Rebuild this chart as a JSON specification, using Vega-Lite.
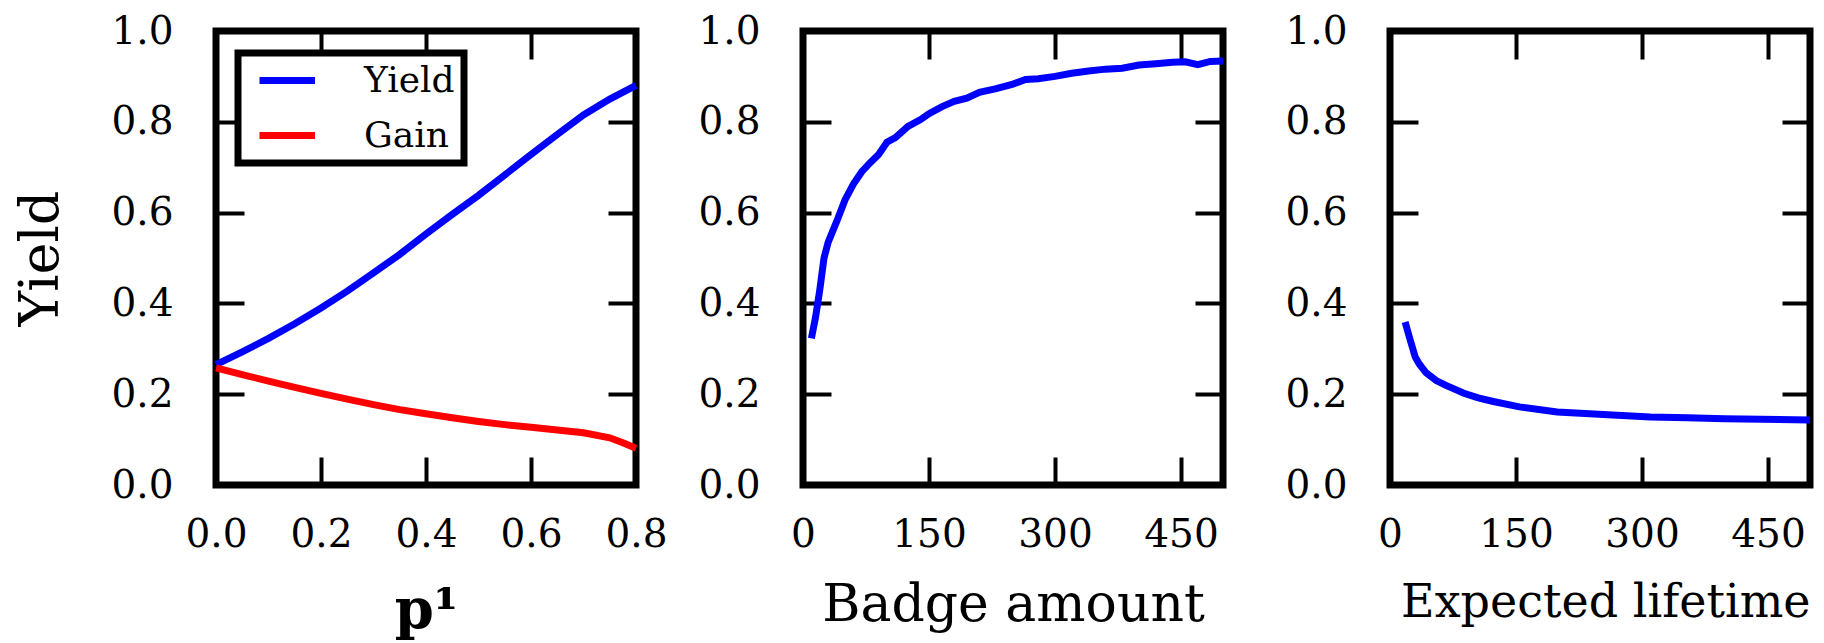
{
  "$schema": "https://vega.github.io/schema/vega-lite/v6.json",
  "background": "white",
  "padding": {"left": 11, "top": 8, "right": 0, "bottom": 0},
  "bounds": "flush",
  "spacing": 167,
  "datasets": {
    "p1": [
      {"p": 0.0, "series": "Yield", "value": 0.265},
      {"p": 0.05, "series": "Yield", "value": 0.293},
      {"p": 0.1, "series": "Yield", "value": 0.323},
      {"p": 0.15, "series": "Yield", "value": 0.355},
      {"p": 0.2, "series": "Yield", "value": 0.39},
      {"p": 0.25, "series": "Yield", "value": 0.427},
      {"p": 0.3, "series": "Yield", "value": 0.467},
      {"p": 0.35, "series": "Yield", "value": 0.508},
      {"p": 0.4, "series": "Yield", "value": 0.553},
      {"p": 0.45, "series": "Yield", "value": 0.596},
      {"p": 0.5, "series": "Yield", "value": 0.638},
      {"p": 0.55, "series": "Yield", "value": 0.683},
      {"p": 0.6, "series": "Yield", "value": 0.728},
      {"p": 0.65, "series": "Yield", "value": 0.772},
      {"p": 0.7, "series": "Yield", "value": 0.815},
      {"p": 0.75, "series": "Yield", "value": 0.85},
      {"p": 0.8, "series": "Yield", "value": 0.88},
      {"p": 0.0, "series": "Gain", "value": 0.258},
      {"p": 0.05, "series": "Gain", "value": 0.243},
      {"p": 0.1, "series": "Gain", "value": 0.229},
      {"p": 0.15, "series": "Gain", "value": 0.215},
      {"p": 0.2, "series": "Gain", "value": 0.202},
      {"p": 0.25, "series": "Gain", "value": 0.189},
      {"p": 0.3, "series": "Gain", "value": 0.177},
      {"p": 0.35, "series": "Gain", "value": 0.166},
      {"p": 0.4, "series": "Gain", "value": 0.157},
      {"p": 0.45, "series": "Gain", "value": 0.148},
      {"p": 0.5, "series": "Gain", "value": 0.14},
      {"p": 0.55, "series": "Gain", "value": 0.133},
      {"p": 0.6, "series": "Gain", "value": 0.127},
      {"p": 0.65, "series": "Gain", "value": 0.121},
      {"p": 0.7, "series": "Gain", "value": 0.115},
      {"p": 0.75, "series": "Gain", "value": 0.104},
      {"p": 0.775, "series": "Gain", "value": 0.093},
      {"p": 0.8, "series": "Gain", "value": 0.081}
    ],
    "p2": [
      {"badge": 10, "yield": 0.323},
      {"badge": 15, "yield": 0.37},
      {"badge": 20, "yield": 0.43},
      {"badge": 25, "yield": 0.5},
      {"badge": 30, "yield": 0.535},
      {"badge": 40, "yield": 0.58},
      {"badge": 50, "yield": 0.628},
      {"badge": 60, "yield": 0.663},
      {"badge": 70, "yield": 0.69},
      {"badge": 80, "yield": 0.71},
      {"badge": 90, "yield": 0.728},
      {"badge": 100, "yield": 0.755},
      {"badge": 110, "yield": 0.765},
      {"badge": 125, "yield": 0.79},
      {"badge": 140, "yield": 0.805},
      {"badge": 150, "yield": 0.818},
      {"badge": 165, "yield": 0.833},
      {"badge": 180, "yield": 0.845},
      {"badge": 195, "yield": 0.852},
      {"badge": 210, "yield": 0.865},
      {"badge": 230, "yield": 0.873},
      {"badge": 250, "yield": 0.883},
      {"badge": 265, "yield": 0.893},
      {"badge": 280, "yield": 0.895},
      {"badge": 300, "yield": 0.9},
      {"badge": 320, "yield": 0.907},
      {"badge": 340, "yield": 0.912},
      {"badge": 360, "yield": 0.916},
      {"badge": 380, "yield": 0.918},
      {"badge": 400, "yield": 0.925},
      {"badge": 420, "yield": 0.928},
      {"badge": 440, "yield": 0.931},
      {"badge": 455, "yield": 0.932},
      {"badge": 470, "yield": 0.926},
      {"badge": 485, "yield": 0.933},
      {"badge": 500, "yield": 0.934}
    ],
    "p3": [
      {"lifetime": 18, "yield": 0.359},
      {"lifetime": 23.5, "yield": 0.323},
      {"lifetime": 30, "yield": 0.282},
      {"lifetime": 35, "yield": 0.266},
      {"lifetime": 43, "yield": 0.247},
      {"lifetime": 55, "yield": 0.23},
      {"lifetime": 66, "yield": 0.22},
      {"lifetime": 88, "yield": 0.202},
      {"lifetime": 105, "yield": 0.192},
      {"lifetime": 123, "yield": 0.184},
      {"lifetime": 154, "yield": 0.172},
      {"lifetime": 199, "yield": 0.161},
      {"lifetime": 265, "yield": 0.154},
      {"lifetime": 310, "yield": 0.15},
      {"lifetime": 354, "yield": 0.148},
      {"lifetime": 398, "yield": 0.146},
      {"lifetime": 443, "yield": 0.145},
      {"lifetime": 500, "yield": 0.143}
    ]
  },
  "config": {
    "view": {"stroke": "black", "strokeWidth": 7},
    "font": "DejaVu Serif",
    "axis": {
      "grid": false,
      "domain": false,
      "tickColor": "black",
      "tickWidth": 4,
      "tickSize": -28,
      "labelFlush": false,
      "labelFont": "DejaVu Serif",
      "labelFontSize": 39,
      "labelColor": "black",
      "titleFont": "DejaVu Serif",
      "titleFontWeight": "normal",
      "titleColor": "black",
      "titleFontSize": 52
    },
    "axisX": {"labelPadding": 58},
    "axisY": {"labelPadding": 71},
    "legend": {
      "orient": "top-left",
      "offset": 22,
      "strokeColor": "black",
      "strokeWidth": 7,
      "fillColor": "white",
      "cornerRadius": 0,
      "padding": 9,
      "labelFont": "DejaVu Serif",
      "labelFontSize": 36,
      "labelColor": "black",
      "symbolType": "M-0.4,0H3.3",
      "symbolSize": 900,
      "symbolStrokeWidth": 7,
      "labelOffset": 80,
      "rowPadding": 18
    }
  },
  "hconcat": [
    {
      "width": 420,
      "height": 454,
      "data": {"name": "p1"},
      "layer": [
        {
          "mark": {"type": "line", "strokeWidth": 7},
          "encoding": {
            "x": {"field": "p", "type": "quantitative", "scale": {"domain": [0, 0.8]},
                  "axis": {"orient": "bottom", "values": [0, 0.2, 0.4, 0.6, 0.8], "format": ".1f", "title": "p¹", "titleFontWeight": "bold", "titleFontSize": 56, "titlePadding": 29}},
            "y": {"field": "value", "type": "quantitative", "scale": {"domain": [0, 1]},
                  "axis": {"orient": "left", "values": [0, 0.2, 0.4, 0.6, 0.8, 1], "format": ".1f", "title": "Yield", "titleFontSize": 54, "titlePadding": 42}},
            "color": {"field": "series", "type": "nominal",
                      "scale": {"domain": ["Yield", "Gain"], "range": ["#0000ff", "#ff0000"]},
                      "legend": {"title": null}}
          }
        },
        {
          "mark": {"type": "line", "strokeWidth": 7, "opacity": 0},
          "encoding": {
            "x": {"field": "p", "type": "quantitative", "scale": {"domain": [0, 0.8]},
                  "axis": {"orient": "top", "values": [0, 0.2, 0.4, 0.6, 0.8], "labels": false, "title": null}},
            "y": {"field": "value", "type": "quantitative", "scale": {"domain": [0, 1]},
                  "axis": {"orient": "right", "values": [0, 0.2, 0.4, 0.6, 0.8, 1], "labels": false, "title": null}},
            "detail": {"field": "series", "type": "nominal"}
          }
        }
      ],
      "resolve": {"axis": {"x": "independent", "y": "independent"}}
    },
    {
      "width": 420,
      "height": 454,
      "data": {"name": "p2"},
      "layer": [
        {
          "mark": {"type": "line", "strokeWidth": 7, "color": "#0000ff"},
          "encoding": {
            "x": {"field": "badge", "type": "quantitative", "scale": {"domain": [0, 500]},
                  "axis": {"orient": "bottom", "values": [0, 150, 300, 450], "format": "d", "title": "Badge amount", "titlePadding": 25}},
            "y": {"field": "yield", "type": "quantitative", "scale": {"domain": [0, 1]},
                  "axis": {"orient": "left", "values": [0, 0.2, 0.4, 0.6, 0.8, 1], "format": ".1f", "title": null}}
          }
        },
        {
          "mark": {"type": "line", "strokeWidth": 7, "opacity": 0},
          "encoding": {
            "x": {"field": "badge", "type": "quantitative", "scale": {"domain": [0, 500]},
                  "axis": {"orient": "top", "values": [0, 150, 300, 450], "labels": false, "title": null}},
            "y": {"field": "yield", "type": "quantitative", "scale": {"domain": [0, 1]},
                  "axis": {"orient": "right", "values": [0, 0.2, 0.4, 0.6, 0.8, 1], "labels": false, "title": null}}
          }
        }
      ],
      "resolve": {"axis": {"x": "independent", "y": "independent"}}
    },
    {
      "width": 420,
      "height": 454,
      "data": {"name": "p3"},
      "layer": [
        {
          "mark": {"type": "line", "strokeWidth": 7, "color": "#0000ff"},
          "encoding": {
            "x": {"field": "lifetime", "type": "quantitative", "scale": {"domain": [0, 500]},
                  "axis": {"orient": "bottom", "values": [0, 150, 300, 450], "format": "d", "title": "Expected lifetime", "titleFontSize": 46, "titleAnchor": "end", "titlePadding": 26}},
            "y": {"field": "yield", "type": "quantitative", "scale": {"domain": [0, 1]},
                  "axis": {"orient": "left", "values": [0, 0.2, 0.4, 0.6, 0.8, 1], "format": ".1f", "title": null}}
          }
        },
        {
          "mark": {"type": "line", "strokeWidth": 7, "opacity": 0},
          "encoding": {
            "x": {"field": "lifetime", "type": "quantitative", "scale": {"domain": [0, 500]},
                  "axis": {"orient": "top", "values": [0, 150, 300, 450], "labels": false, "title": null}},
            "y": {"field": "yield", "type": "quantitative", "scale": {"domain": [0, 1]},
                  "axis": {"orient": "right", "values": [0, 0.2, 0.4, 0.6, 0.8, 1], "labels": false, "title": null}}
          }
        }
      ],
      "resolve": {"axis": {"x": "independent", "y": "independent"}}
    }
  ]
}
